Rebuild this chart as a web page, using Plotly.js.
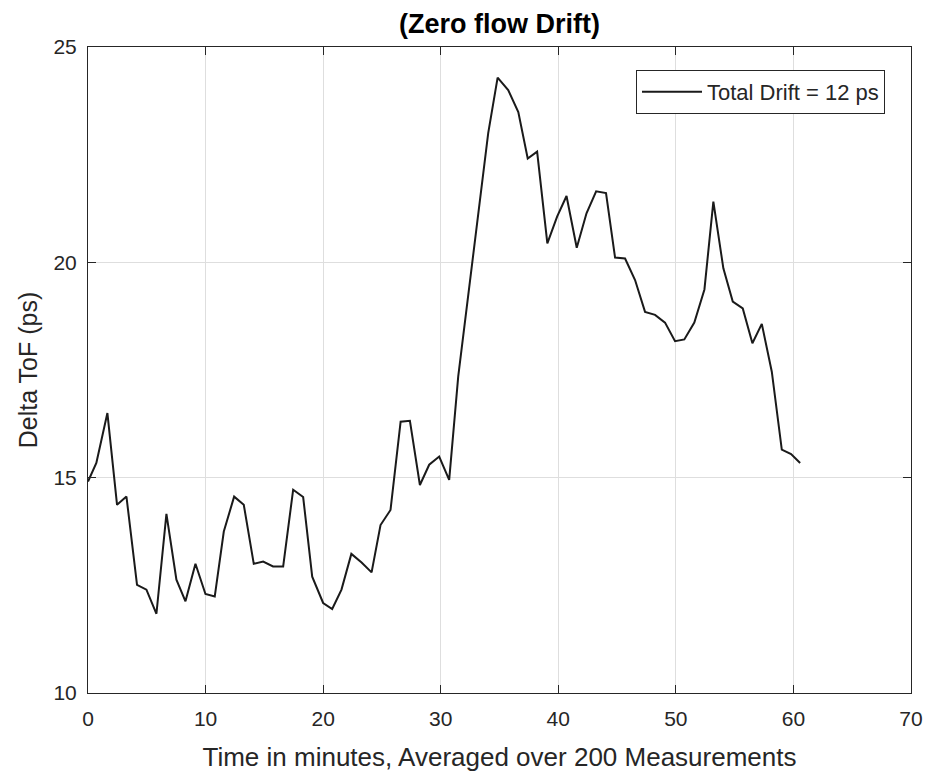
<!DOCTYPE html>
<html>
<head>
<meta charset="utf-8">
<script src="https://cdn.plot.ly/plotly-3.0.1.min.js"></script>
<style>
  html, body { margin: 0; padding: 0; background: #fff; }
  #chart { width: 926px; height: 777px; }
</style>
</head>
<body>
<div id="chart"></div>
<script>
// Time (minutes)
const timeMin = [
  0.00, 0.71, 1.65, 2.47, 3.27, 4.17, 4.97, 5.82, 6.67, 7.52,
  8.29, 9.14, 9.99, 10.78, 11.55, 12.43, 13.25, 14.10, 14.90, 15.74,
  16.60, 17.45, 18.30, 19.07, 20.00, 20.77, 21.56, 22.40, 23.27, 24.12,
  24.88, 25.73, 26.59, 27.38, 28.23, 29.02, 29.87, 30.72, 31.49, 32.34,
  33.20, 34.04, 34.84, 35.74, 36.60, 37.40, 38.20, 39.07, 39.90, 40.70,
  41.57, 42.40, 43.22, 44.06, 44.83, 45.68, 46.53, 47.38, 48.23, 49.08,
  49.93, 50.72, 51.57, 52.43, 53.19, 54.04, 54.84, 55.69, 56.51, 57.31,
  58.16, 59.01, 59.80, 60.57
];
// Delta ToF (ps)
const deltaToF = [
  14.91, 15.34, 16.50, 14.37, 14.56, 12.51, 12.40, 11.84, 14.16, 12.63,
  12.13, 13.00, 12.30, 12.24, 13.75, 14.56, 14.37, 13.00, 13.05, 12.94,
  12.94, 14.72, 14.55, 12.70, 12.09, 11.95, 12.40, 13.23, 13.03, 12.80,
  13.90, 14.25, 16.30, 16.32, 14.83, 15.30, 15.49, 14.95, 17.35, 19.20,
  21.10, 23.00, 24.29, 24.00, 23.49, 22.41, 22.57, 20.44, 21.06, 21.54,
  20.34, 21.14, 21.65, 21.61, 20.11, 20.09, 19.59, 18.85, 18.78, 18.60,
  18.17, 18.21, 18.60, 19.37, 21.41, 19.86, 19.09, 18.93, 18.12, 18.57,
  17.46, 15.65, 15.55, 15.34
];
const seriesName = "Total Drift = 12 ps";
const xTicks = [0, 10, 20, 30, 40, 50, 60, 70];
const yTicks = [10, 15, 20, 25];

const FONT = "Liberation Sans, Arial, Helvetica, sans-serif";
const AXC = "#262626";

const trace = {
  x: timeMin,
  y: deltaToF,
  type: "scatter",
  mode: "lines",
  name: seriesName,
  line: { color: "#1a1a1a", width: 2 }
};

const axisCommon = {
  showline: true,
  linecolor: AXC,
  linewidth: 1,
  mirror: "ticks",
  ticks: "inside",
  ticklen: 8,
  tickwidth: 1,
  tickcolor: AXC,
  showgrid: true,
  gridcolor: "#dedede",
  gridwidth: 1,
  zeroline: false,
  tickfont: { family: FONT, size: 21, color: AXC }
};

const layout = {
  width: 926,
  height: 777,
  paper_bgcolor: "#ffffff",
  plot_bgcolor: "#ffffff",
  margin: { l: 88, r: 15, t: 47, b: 84 },
  title: {
    text: "<b>(Zero flow Drift)</b>",
    font: { family: FONT, size: 27, color: "#000" },
    x: 0.5 + (88 - 15) / 2 / 926,
    xanchor: "center",
    y: 1 - 24 / 777,
    yanchor: "middle"
  },
  xaxis: Object.assign({}, axisCommon, {
    range: [0, 70],
    tickvals: xTicks,
    ticktext: xTicks.map(String),
    ticklabelstandoff: 7,
    title: { text: "Time in minutes, Averaged over 200 Measurements", font: { family: FONT, size: 26, color: AXC }, standoff: 18 }
  }),
  yaxis: Object.assign({}, axisCommon, {
    range: [10, 25],
    tickvals: yTicks,
    ticktext: yTicks.map(String),
    ticklabelstandoff: 6,
    title: { text: "Delta ToF (ps)", font: { family: FONT, size: 25, color: AXC }, standoff: 8 }
  }),
  showlegend: true,
  legend: {
    x: (885 - 88) / (911 - 88),
    xanchor: "right",
    y: (692.7 - 70) / 645.7,
    yanchor: "top",
    bgcolor: "#ffffff",
    bordercolor: AXC,
    borderwidth: 1,
    itemwidth: 60,
    font: { family: FONT, size: 22, color: AXC }
  }
};

Plotly.newPlot("chart", [trace], layout, { displayModeBar: false, staticPlot: true });
</script>
</body>
</html>
